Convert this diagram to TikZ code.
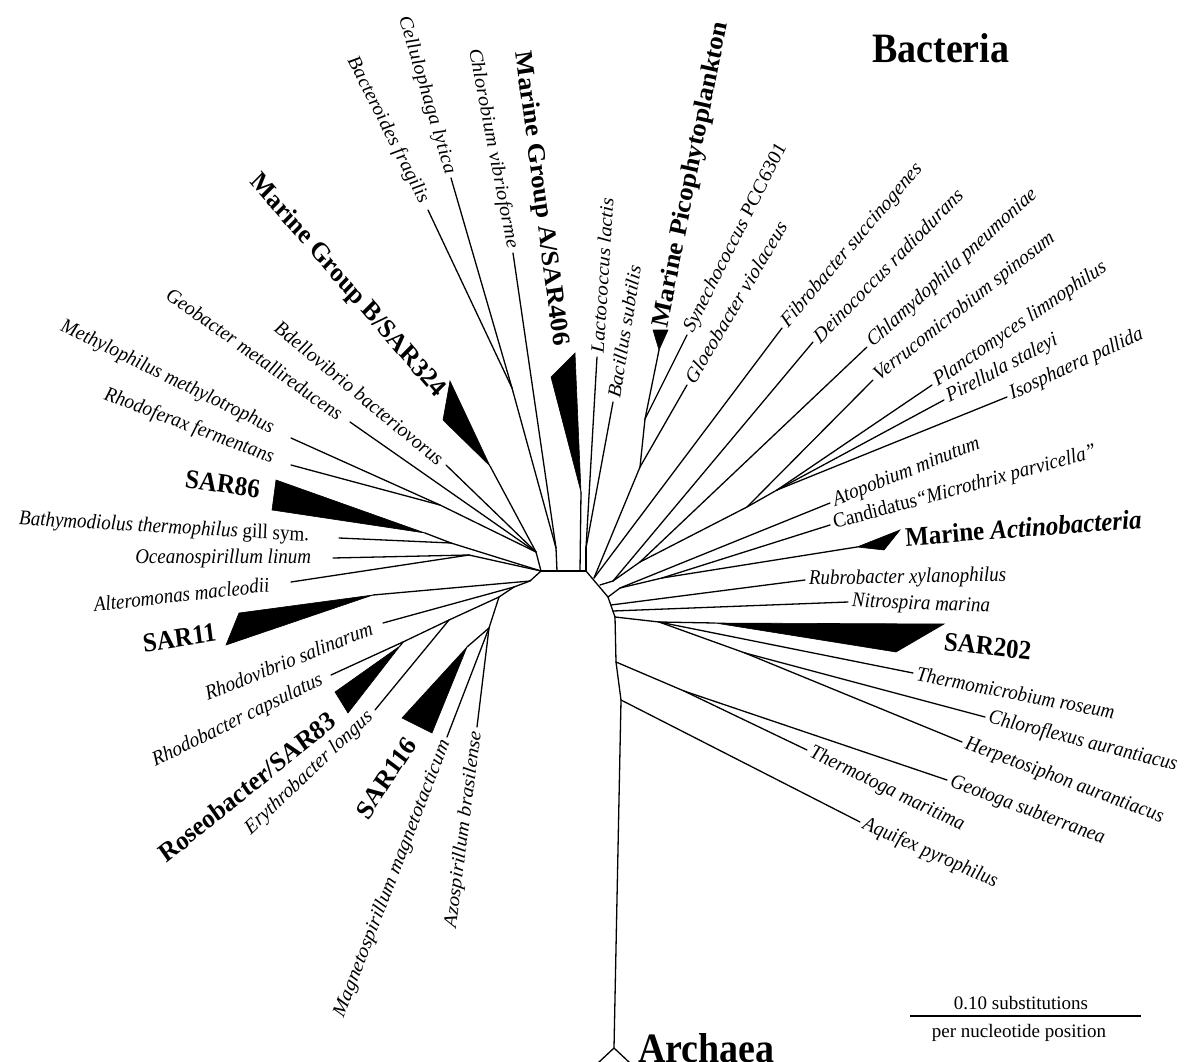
\documentclass[tikz,border=0pt]{standalone}
\usepackage{fontspec}
\setmainfont{Liberation Serif}
\usetikzlibrary{positioning}

\tikzset{
  branch/.style={line width=1.3pt, line join=round, line cap=round},
  clade/.style={fill=black, draw=black, line width=0.6pt},
  sp/.style={yscale=1.1, font=\fontsize{19}{22}\selectfont\itshape, inner sep=2pt, outer sep=2pt},
  grp/.style={yscale=1.08, font=\fontsize{25}{28}\selectfont\bfseries, inner sep=2pt},
  dom/.style={yscale=1.1, font=\fontsize{38}{42}\selectfont\bfseries, inner sep=0pt},
  bar/.style={font=\fontsize{19}{21}\selectfont, inner sep=0pt},
  lgap/.style={outer sep=#1},
}

\begin{document}
\begin{tikzpicture}[x=1pt, y=-1pt]
\useasboundingbox (0,0) rectangle (1184,1062);

% backbone
\coordinate (cL) at (541,571);
\coordinate (cR) at (586,571);
\coordinate (cL2) at (530,581);
\coordinate (bar1) at (557,571);
\coordinate (bar2) at (580,571);
\coordinate (j1) at (594,578);
\coordinate (j2) at (600,585);
\coordinate (r1) at (608,597);
\coordinate (r1b) at (611,605);
\coordinate (r1c) at (613,611);
\coordinate (r2) at (615,617);
\coordinate (r3) at (616,662);
\coordinate (r4) at (621,700);
\coordinate (arch) at (614,1048);
\coordinate (archL) at (598,1063);
\coordinate (archR) at (630,1063);

% internal nodes
\coordinate (nBC) at (512,388);
\coordinate (nCh) at (556,548);
\coordinate (nLB) at (586,548);
\coordinate (nMR) at (440,505);
\coordinate (nDB) at (536,552);
\coordinate (nBS) at (451,543);
\coordinate (nOA) at (469,555);
\coordinate (nA1) at (514,587);
\coordinate (nA2) at (499,597);
\coordinate (nRos) at (449,620);
\coordinate (nRb) at (403,642);
\coordinate (nMA) at (489,628);
\coordinate (nPS) at (645,419);
\coordinate (nCy) at (640,467);
\coordinate (nDV) at (613,581);
\coordinate (nCV) at (640,562);
\coordinate (nPV) at (747,507);
\coordinate (nPl) at (777,490);
\coordinate (nAct) at (662,578);
\coordinate (nAC) at (620,588);
\coordinate (nS) at (659,622);
\coordinate (nCH) at (745,653);
\coordinate (nTG) at (684,691);

% leaf tips
\coordinate (bBac) at (428,210);
\coordinate (bCel) at (451,178);
\coordinate (bChl) at (513,253);
\coordinate (bLac) at (597,357);
\coordinate (bBas) at (613,402);
\coordinate (bSyn) at (687,335);
\coordinate (bGlo) at (687,385);
\coordinate (bFib) at (782,328);
\coordinate (bDei) at (813,342);
\coordinate (bCla) at (867,347);
\coordinate (bVer) at (873,380);
\coordinate (bPla) at (932,385);
\coordinate (bPir) at (944,400);
\coordinate (bIso) at (1007,397);
\coordinate (bAto) at (830,503);
\coordinate (bCan) at (830,525);
\coordinate (bRub) at (805,580);
\coordinate (bNit) at (848,602);
\coordinate (bThm) at (913,673);
\coordinate (bChf) at (985,717);
\coordinate (bHer) at (962,742);
\coordinate (bGeo) at (947,780);
\coordinate (bTmt) at (807,750);
\coordinate (bAqu) at (860,822);
\coordinate (bAzo) at (477,727);
\coordinate (bMag) at (447,737);
\coordinate (bEry) at (375,710);
\coordinate (bRhb) at (331,675);
\coordinate (bRhv) at (383,623);
\coordinate (bAlt) at (291,582);
\coordinate (bOce) at (333,558);
\coordinate (bBat) at (339,538);
\coordinate (bRfx) at (291,465);
\coordinate (bMet) at (291,438);
\coordinate (bGmt) at (350,422);
\coordinate (bBde) at (446,465);

% clade apexes
\coordinate (a406) at (581,492);
\coordinate (a324) at (490,466);
\coordinate (a86) at (425,533);
\coordinate (a11) at (373,595);
\coordinate (aRos) at (400,646);
\coordinate (a116) at (467,647);
\coordinate (aPico) at (659,350);
\coordinate (aAct) at (857,547);
\coordinate (a202) at (715,623);

% branches
\foreach \a/\b in {cL/cR, cL/cL2, cR/r1, r1/r2, r2/r3, r3/r4, r4/arch, arch/archL, arch/archR,
  nBC/bBac, nBC/bCel, nBC/nCh, bChl/nCh, nCh/bar1, a406/bar2, bLac/nLB, bBas/nLB, nLB/cR,
  bMet/nMR, bRfx/nMR, nMR/nDB, bGmt/nDB, bBde/nDB, a324/nDB, nDB/cL,
  a86/nBS, bBat/nBS, nBS/cL, bOce/nOA, bAlt/nOA, nOA/cL, a11/cL2,
  cL2/nA1, bRhv/nA1, nA1/nA2, nA2/nRos, nRos/bEry, nRos/nRb, nRb/bRhb, nRb/aRos,
  nA2/nMA, nMA/bMag, nMA/bAzo, nMA/a116,
  aPico/nPS, bSyn/nPS, nPS/nCy, bGlo/nCy, nCy/j1, bFib/j1,
  bDei/nDV, bPla/nPl, bPir/nPl, bIso/nPl, nPl/nPV, bVer/nPV, nPV/nCV, bCla/nCV, nCV/nDV, nDV/j2,
  bCan/nAct, aAct/nAct, nAct/nAC, bAto/nAC, nAC/r1, bRub/r1b, bNit/r1c,
  r2/nS, nS/a202, nS/bThm, nS/nCH, nCH/bChf, nCH/bHer,
  r3/nTG, nTG/bTmt, nTG/bGeo, r4/bAqu}
  \draw[branch] (\a) -- (\b);

% collapsed clades
\fill[clade] (a406) -- (551,377) -- (575,353) -- cycle;
\fill[clade] (a324) -- (450,381) -- (443,420) -- cycle;
\fill[clade] (a86) -- (276,480) -- (272,510) -- cycle;
\fill[clade] (a11) -- (239,613) -- (226,645) -- cycle;
\fill[clade] (aRos) -- (335,692) -- (348,713) -- cycle;
\fill[clade] (a116) -- (402,718) -- (432,733) -- cycle;
\fill[clade] (aPico) -- (653,330) -- (668,330) -- cycle;
\fill[clade] (aAct) -- (900,530) -- (884,550) -- cycle;
\fill[clade] (a202) -- (944,624) -- (896,652) -- cycle;

% right side labels
\node[sp, anchor=west, rotate=86] (tLac) at (bLac) {Lactococcus lactis};
\node[sp, anchor=west, rotate=80] (tBas) at (bBas) {Bacillus subtilis};
\node[grp, anchor=west, rotate=78] (tPico) at (661,329) {Marine Picophytoplankton};
\node[sp, anchor=west, rotate=61] (tSyn) at (bSyn) {Synechococcus \upshape PCC6301};
\node[sp, anchor=west, rotate=57] (tGlo) at (bGlo) {Gloeobacter violaceus};
\node[sp, anchor=west, rotate=47] (tFib) at (bFib) {Fibrobacter succinogenes};
\node[sp, anchor=west, rotate=43] (tDei) at (bDei) {Deinococcus radiodurans};
\node[sp, anchor=west, rotate=40] (tCla) at (bCla) {Chlamydophila pneumoniae};
\node[sp, anchor=west, rotate=36] (tVer) at (bVer) {Verrucomicrobium spinosum};
\node[sp, anchor=west, rotate=32] (tPla) at (bPla) {Planctomyces limnophilus};
\node[sp, anchor=west, rotate=26] (tPir) at (bPir) {Pirellula staleyi};
\node[sp, anchor=west, rotate=23] (tIso) at (bIso) {Isosphaera pallida};
\node[sp, anchor=west, rotate=20] (tAto) at (bAto) {Atopobium minutum};
\node[sp, anchor=west, rotate=14] (tCan) at (bCan) {\upshape Candidatus\itshape“Microthrix parvicella”};
\node[grp, anchor=west, rotate=4] (tAct) at (903,537) {Marine \textit{Actinobacteria}};
\node[sp, anchor=west, rotate=1] (tRub) at (bRub) {Rubrobacter xylanophilus};
\node[sp, anchor=west, rotate=-2] (tNit) at (bNit) {Nitrospira marina};
\node[grp, anchor=west, rotate=-6] (t202) at (942,641) {SAR202};
\node[sp, anchor=west, rotate=-10] (tThm) at (bThm) {Thermomicrobium roseum};
\node[sp, anchor=west, rotate=-13] (tChf) at (bChf) {Chloroflexus aurantiacus};
\node[sp, anchor=west, rotate=-19] (tHer) at (bHer) {Herpetosiphon aurantiacus};
\node[sp, anchor=west, rotate=-19] (tGeo) at (bGeo) {Geotoga subterranea};
\node[sp, anchor=west, rotate=-24] (tTmt) at (bTmt) {Thermotoga maritima};
\node[sp, anchor=west, rotate=-22] (tAqu) at (bAqu) {Aquifex pyrophilus};

% left side labels
\node[sp, lgap=6pt, anchor=east, rotate=-61] (tBac) at (bBac) {Bacteroides fragilis};
\node[sp, anchor=east, rotate=-72] (tCel) at (bCel) {Cellulophaga lytica};
\node[sp, anchor=east, rotate=-78] (tChl) at (bChl) {Chlorobium vibrioforme};
\node[grp, anchor=east, rotate=-82] (t406) at (560,348) {Marine Group A/SAR406};
\node[grp, anchor=east, rotate=-47] (t324) at (442,396) {Marine Group B/SAR324};
\node[sp, lgap=4pt, anchor=east, rotate=-37] (tBde) at (bBde) {Bdellovibrio bacteriovorus};
\node[sp, lgap=9pt, anchor=east, rotate=-33] (tGmt) at (bGmt) {Geobacter metallireducens};
\node[sp, lgap=18pt, anchor=east, rotate=-24] (tMet) at (bMet) {Methylophilus methylotrophus};
\node[sp, lgap=17pt, anchor=east, rotate=-19] (tRfx) at (bRfx) {Rhodoferax fermentans};
\node[grp, anchor=east, rotate=-8] (t86) at (262,490) {SAR86};
\node[sp, lgap=28pt, anchor=east, rotate=-3] (tBat) at (bBat) {Bathymodiolus thermophilus \upshape gill sym.};
\node[sp, lgap=20pt, anchor=east] (tOce) at (bOce) {Oceanospirillum linum};
\node[sp, lgap=20pt, anchor=east, rotate=6] (tAlt) at (bAlt) {Alteromonas macleodii};
\node[grp, anchor=east, rotate=8] (t11) at (218,632) {SAR11};
\node[sp, lgap=10pt, anchor=east, rotate=20] (tRhv) at (bRhv) {Rhodovibrio salinarum};
\node[sp, lgap=8pt, anchor=east, rotate=24] (tRhb) at (bRhb) {Rhodobacter capsulatus};
\node[grp, anchor=east, rotate=37] (tRos) at (334,716) {Roseobacter/SAR83};
\node[sp, lgap=4pt, anchor=east, rotate=41] (tEry) at (bEry) {Erythrobacter longus};
\node[grp, anchor=east, rotate=55] (t116) at (412,738) {SAR116};
\node[sp, anchor=east, rotate=67] (tMag) at (bMag) {Magnetospirillum magnetotacticum};
\node[sp, anchor=east, rotate=82] (tAzo) at (bAzo) {Azospirillum brasilense};

% domains and scale
\node[dom, anchor=base west] (bacteria) at (872,63) {Bacteria};
\node[dom, anchor=base west] (archaea) at (638,1062) {Archaea};
\coordinate (sL) at (910,1016);
\coordinate (sR) at (1141,1016);
\draw[line width=2.4pt] (sL) -- (sR);
\node[bar] (s1) at (1021,1003) {0.10 substitutions};
\node[bar] (s2) at (1019,1033) {per nucleotide position};
\end{tikzpicture}
\end{document}
